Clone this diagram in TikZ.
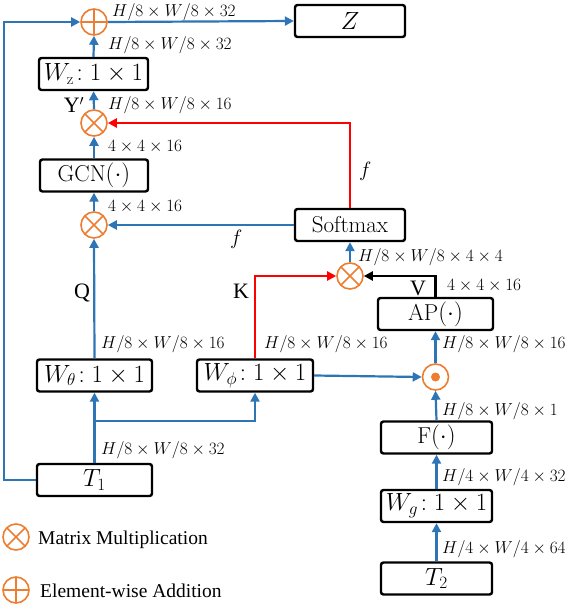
\documentclass[tikz,border=0pt]{standalone}
\usepackage{fontspec}
\newfontfamily\timesfont{Liberation Serif}
\usetikzlibrary{arrows.meta,calc}

\definecolor{lineblue}{RGB}{46,117,182}
\definecolor{oporange}{RGB}{237,125,49}

\tikzset{
    block/.style={draw, line width=2.4pt, rounded corners=2.5pt, minimum height=32pt,
        inner sep=0pt, font=\fontsize{23}{26}\selectfont},
    op/.style={circle, draw=oporange, line width=1.6pt, minimum size=26pt, inner sep=0pt},
    otimes/.style={op, path picture={
        \draw[oporange, line width=1.6pt]
            (path picture bounding box.north west) -- (path picture bounding box.south east)
            (path picture bounding box.north east) -- (path picture bounding box.south west);}},
    oplus/.style={op, path picture={
        \draw[oporange, line width=1.6pt]
            (path picture bounding box.north) -- (path picture bounding box.south)
            (path picture bounding box.east) -- (path picture bounding box.west);}},
    odot/.style={op, path picture={
        \fill[oporange] (path picture bounding box.center) circle[radius=4.5pt];}},
    dim/.style={anchor=base west, inner sep=0pt, font=\fontsize{18}{21}\selectfont},
    tag/.style={anchor=base, inner sep=0pt, font=\timesfont\fontsize{22}{25}\selectfont},
    legendtext/.style={anchor=base west, inner sep=0pt, font=\timesfont\fontsize{19.5}{23}\selectfont},
    tip/.style={-{Triangle[length=9pt,width=9pt]}},
    flow/.style={draw=lineblue, line width=2.2pt, tip},
    redflow/.style={draw=red, line width=2.2pt, tip},
    blackflow/.style={draw=black, line width=2.2pt, tip}
}

\begin{document}
\begin{tikzpicture}[x=1pt, y=-1pt]
    \useasboundingbox (0,0) rectangle (572,604);

    % left column
    \node[block, minimum width=115pt] (t1) at (94.5,480) {$T_1$};
    \node[block, minimum width=115pt] (wtheta) at (94.5,375.5) {$W_\theta\!: 1\times 1$};
    \node[otimes] (qmul) at (94,225) {};
    \node[block, minimum width=108pt] (gcn) at (94,175.5) {GCN$(\cdot)$};
    \node[otimes] (ymul) at (94,123) {};
    \node[block, minimum width=109pt] (wz) at (93.5,74) {$W_{\mathrm{z}}\!: 1\times 1$};
    \node[oplus] (sum) at (94,22) {};
    \node[block, minimum width=110pt] (z) at (350,21) {$Z$};

    % middle
    \node[block, minimum width=116pt] (wphi) at (255,375.5) {$W_\phi\!: 1\times 1$};
    \node[block, minimum width=110pt] (softmax) at (350,225) {Softmax};
    \node[otimes] (kmul) at (350,276) {};

    % right column
    \node[block, minimum width=111pt] (t2) at (436.5,578.5) {$T_2$};
    \node[block, minimum width=111pt] (wg) at (436.5,506) {$W_g\!: 1\times 1$};
    \node[block, minimum width=111pt] (fx) at (436.5,437.5) {F$(\cdot)$};
    \node[odot] (gate) at (435.5,377) {};
    \node[block, minimum width=115pt] (ap) at (435.5,314) {AP$(\cdot)$};

    \coordinate (split) at (94,421);

    % connectors
    \draw[flow] (t1.west) -- ++(-32,0) |- (sum.west);
    \draw[flow] (sum.east) -- (z.west);
    \draw[flow] (wz.north) -- (sum.south);
    \draw[flow] (ymul.north) -- (wz.south);
    \draw[flow] (gcn.north) -- (ymul.south);
    \draw[flow] (qmul.north) -- (gcn.south);
    \draw[flow] (wtheta.north) -- (qmul.south);
    \draw[flow] (t1.north) -- (wtheta.south);
    \draw[flow] (split) -| (wphi.south);
    \draw[flow] (wphi.east) -- (gate.west);
    \draw[redflow] (wphi.north) |- (kmul.west);
    \draw[blackflow] (ap.north) |- (kmul.east);
    \draw[flow] (kmul.north) -- (softmax.south);
    \draw[flow] (softmax.west) -- (qmul.east);
    \draw[redflow] (softmax.north) |- (ymul.east);
    \draw[flow] (gate.north) -- (ap.south);
    \draw[flow] (fx.north) -- (gate.south);
    \draw[flow] (wg.north) -- (fx.south);
    \draw[flow] (t2.north) -- (wg.south);

    % sizes
    \node[dim] (d1) at (112,17) {$H/8\times W/8\times 32$};
    \node[dim] (d2) at (108,50) {$H/8\times W/8\times 32$};
    \node[dim] (d3) at (108,110) {$H/8\times W/8\times 16$};
    \node[dim] (d4) at (108,152) {$4\times 4\times 16$};
    \node[dim] (d5) at (108,211) {$4\times 4\times 16$};
    \node[dim] (d6) at (101,348) {$H/8\times W/8\times 16$};
    \node[dim] (d7) at (264,348) {$H/8\times W/8\times 16$};
    \node[dim] (d8) at (101,454) {$H/8\times W/8\times 32$};
    \node[dim] (d9) at (358,261) {$H/8\times W/8\times 4\times 4$};
    \node[dim] (d10) at (447,290) {$4\times 4\times 16$};
    \node[dim] (d11) at (442,348) {$H/8\times W/8\times 16$};
    \node[dim] (d12) at (442,415) {$H/8\times W/8\times 1$};
    \node[dim] (d13) at (442,481) {$H/4\times W/4\times 32$};
    \node[dim] (d14) at (442,553) {$H/4\times W/4\times 64$};

    % branch names
    \node[tag] (ylabel) at (74,113) {Y$'$};
    \node[tag] (qlabel) at (82,298) {Q};
    \node[tag] (klabel) at (241,298) {K};
    \node[tag] (vlabel) at (418,295) {V};
    \node[dim, font=\fontsize{21}{24}\selectfont] (fred) at (359,176) {$f$};
    \node[dim, font=\fontsize{21}{24}\selectfont] (fblue) at (230,244) {$f$};

    % legend
    \node[otimes] (legmul) at (16,537) {};
    \node[legendtext] (legmultext) at (38,544) {Matrix Multiplication};
    \node[oplus] (legadd) at (16,590) {};
    \node[legendtext] (legaddtext) at (40,597) {Element-wise Addition};
\end{tikzpicture}
\end{document}
